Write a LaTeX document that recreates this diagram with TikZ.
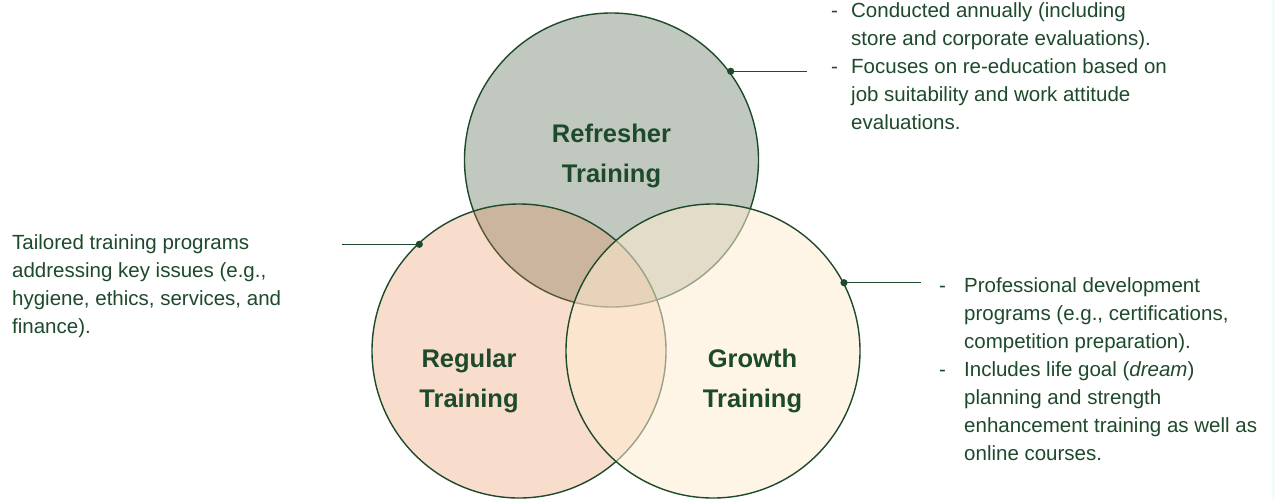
\documentclass[tikz,border=0pt]{standalone}
\usepackage{fontspec}
\setmainfont{Liberation Sans}
\definecolor{dkgreen}{HTML}{1E4A2C}
\definecolor{topfill}{HTML}{C1C8BF}
\definecolor{regfill}{RGB}{233,134,73}
\definecolor{growfill}{RGB}{254,237,211}
\definecolor{edgestrip}{HTML}{F2FAFA}
\tikzset{
  venn/.style={circle, draw=dkgreen, line width=1.4pt, inner sep=0pt, minimum size=294pt},
  title/.style={anchor=base, align=center, text=dkgreen, font=\fontsize{25.5}{40}\selectfont\bfseries, inner sep=0pt},
  body/.style={anchor=base west, align=left, text=dkgreen, font=\fontsize{20.5}{28}\selectfont, inner sep=0pt},
  leader/.style={draw=dkgreen, line width=1.3pt},
  dot/.style={fill=dkgreen}
}
\newcommand{\dashitem}[2]{\makebox[#1][l]{-}#2}
\begin{document}
\begin{tikzpicture}[x=1pt,y=-1pt]
\fill[white] (0,0) rectangle (1275,499);
\useasboundingbox (0,0) rectangle (1275,499);
\fill[edgestrip] (1272,0) rectangle (1275,499);
% circles
\node[venn, fill=topfill] (refc) at (611.5,160) {};
\node[venn, fill=regfill, fill opacity=0.28] (regc) at (519,351) {};
\node[venn, fill=growfill, fill opacity=0.54] (growc) at (713,351) {};
% titles (anchor = baseline of last line)
\node[title] (reft) at (611.5,182.7) {Refresher\\Training};
\node[title] (regt) at (469,407.7) {Regular\\Training};
\node[title] (growt) at (752.5,407.7) {Growth\\Training};
% leader dots and lines
\coordinate (d1) at (730.7,71.3);
\coordinate (e1) at (806.7,71.3);
\coordinate (d2) at (419.3,244.3);
\coordinate (e2) at (342.3,244.3);
\coordinate (d3) at (844,282.7);
\coordinate (e3) at (921,282.7);
\draw[leader] (d1) -- (e1);
\draw[leader] (d2) -- (e2);
\draw[leader] (d3) -- (e3);
\fill[dot] (d1) circle (3.6pt);
\fill[dot] (d2) circle (3.6pt);
\fill[dot] (d3) circle (3.6pt);
% texts (anchor = baseline of last line)
\node[body] (reftext) at (831,129.5) {\dashitem{20pt}{Conducted annually (including}\\
\hspace*{20pt}store and corporate evaluations).\\
\dashitem{20pt}{Focuses on re-education based on}\\
\hspace*{20pt}job suitability and work attitude\\
\hspace*{20pt}evaluations.};
\node[body] (regtext) at (12,333.3) {Tailored training programs\\
addressing key issues (e.g.,\\
hygiene, ethics, services, and\\
finance).};
\node[body] (growtext) at (939,460) {\dashitem{25pt}{Professional development}\\
\hspace*{25pt}programs (e.g., certifications,\\
\hspace*{25pt}competition preparation).\\
\dashitem{25pt}{Includes life goal (\textit{dream})}\\
\hspace*{25pt}planning and strength\\
\hspace*{25pt}enhancement training as well as\\
\hspace*{25pt}online courses.};
\end{tikzpicture}
\end{document}
